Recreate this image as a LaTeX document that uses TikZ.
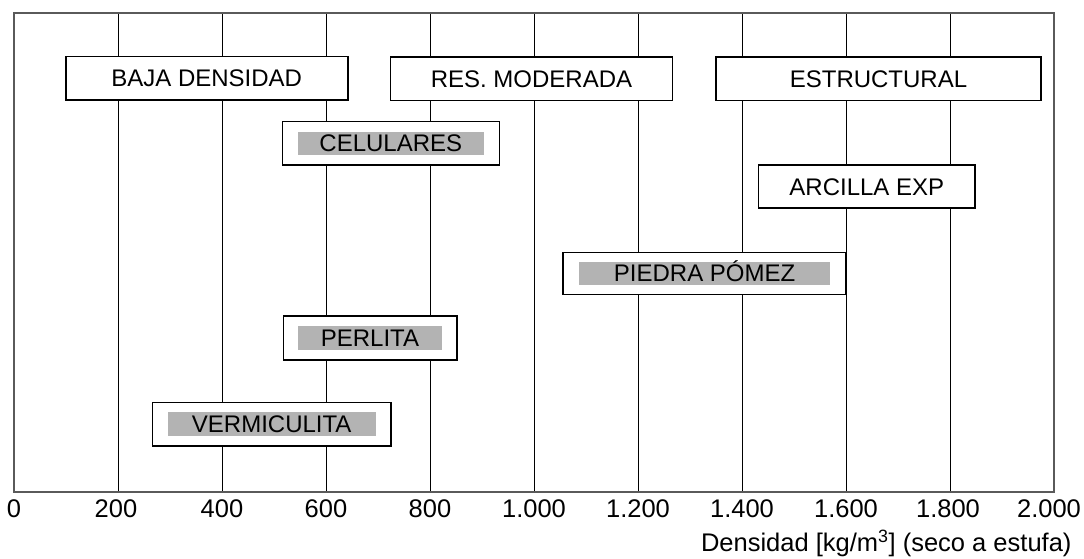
\documentclass[tikz,border=0pt]{standalone}
\usepackage{fontspec}
\setmainfont{Liberation Sans}
\definecolor{barfill}{RGB}{179,179,179}
\definecolor{framecol}{RGB}{90,90,90}
\begin{document}
\begin{tikzpicture}[x=1pt,y=-1pt,
  grid/.style={line width=0.9pt,black},
  frame/.style={line width=1.3pt,framecol},
  catbox/.style={draw=black,line width=1.6pt,fill=white,inner sep=0pt,
    font=\fontsize{24}{28}\selectfont,text height=17.2pt,text depth=0pt},
  matbox/.style={draw=black,line width=1.6pt,fill=white,inner sep=0pt},
  matbar/.style={fill=barfill,inner sep=0pt,
    font=\fontsize{24}{28}\selectfont,text height=17.2pt,text depth=0pt},
  tick/.style={anchor=base,font=\fontsize{25.5}{30}\selectfont},
  axtitle/.style={anchor=base east,font=\fontsize{25.5}{30}\selectfont}]
\useasboundingbox (0,0) rectangle (1084,559);
\fill[white] (0,0) rectangle (1084,559);
% grid lines
\foreach \v in {1,...,9} {
  \draw[grid] ({14+52*\v*2},13) -- ({14+52*\v*2},492);
}
% frame
\draw[frame] (14,13) rectangle (1054,492);
% tick labels
\node[tick] (t0) at (14,517.7) {0};
\node[tick] (t1) at (116,517.7) {200};
\node[tick] (t2) at (222,517.7) {400};
\node[tick] (t3) at (326,517.7) {600};
\node[tick] (t4) at (430,517.7) {800};
\node[tick] (t5) at (534,517.7) {1.000};
\node[tick] (t6) at (638,517.7) {1.200};
\node[tick] (t7) at (742,517.7) {1.400};
\node[tick] (t8) at (846,517.7) {1.600};
\node[tick] (t9) at (948,517.7) {1.800};
\node[tick] (t10) at (1049,517.7) {2.000};
\node[axtitle] (ax) at (1075,551.5) {Densidad [kg/m\textsuperscript{3}] (seco a estufa)};
% category boxes
\node[catbox,minimum width=282pt,minimum height=43.5pt] (baja) at (206.7,78.4) {BAJA DENSIDAD};
\node[catbox,minimum width=282.3pt,minimum height=43.5pt] (res) at (531.5,78.6) {RES. MODERADA};
\node[catbox,minimum width=325pt,minimum height=43.5pt] (estr) at (878.5,78.8) {ESTRUCTURAL};
\node[catbox,minimum width=216.4pt,minimum height=43.5pt] (arc) at (866.8,186.5) {ARCILLA EXP};
% material boxes with grey bars
\node[matbox,minimum width=217pt,minimum height=43.3pt] (cel) at (390.8,143.3) {};
\node[matbar,minimum width=185.4pt,minimum height=23.3pt] (celT) at (cel.center) {CELULARES};
\node[matbox,minimum width=282.7pt,minimum height=42pt] (pie) at (704.6,273.3) {};
\node[matbar,minimum width=251.7pt,minimum height=22.6pt] (pieT) at (pie.center) {PIEDRA PÓMEZ};
\node[matbox,minimum width=173.4pt,minimum height=44pt] (per) at (370,338) {};
\node[matbar,minimum width=143.4pt,minimum height=24pt] (perT) at (per.center) {PERLITA};
\node[matbox,minimum width=238.7pt,minimum height=43.7pt] (ver) at (271.7,424.2) {};
\node[matbar,minimum width=208.3pt,minimum height=23.7pt] (verT) at (ver.center) {VERMICULITA};
\end{tikzpicture}
\end{document}
